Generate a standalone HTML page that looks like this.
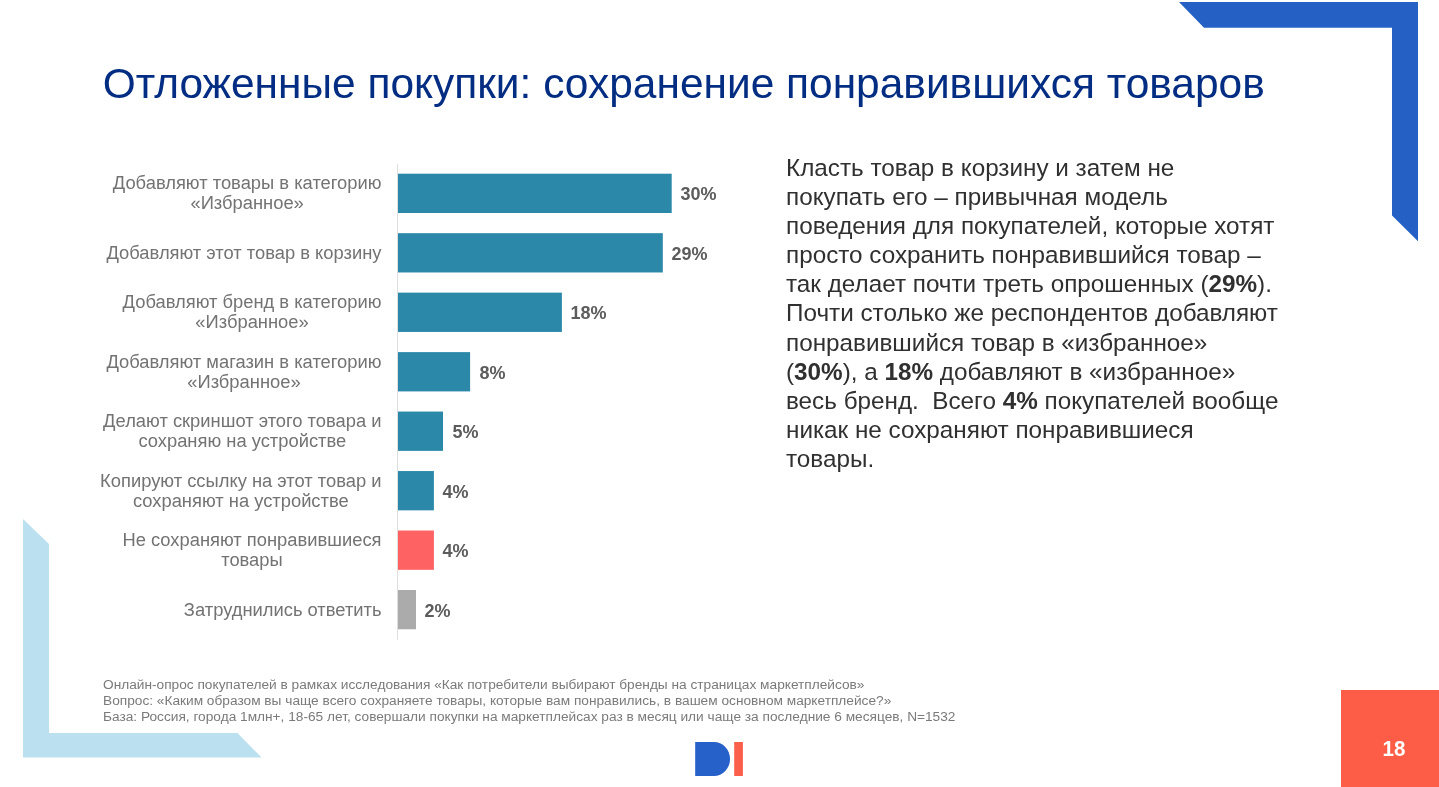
<!DOCTYPE html>
<html lang="ru">
<head>
<meta charset="utf-8">
<title>Отложенные покупки</title>
<style>
html,body{margin:0;padding:0;background:#fff;}
body{width:1439px;height:787px;position:relative;overflow:hidden;font-family:"Liberation Sans",sans-serif;}
.abs{position:absolute;}
#title{left:102.7px;top:60px;font-size:42.46px;line-height:48px;color:#032d82;white-space:nowrap;}
#deco{left:0;top:0;width:1439px;height:787px;}
.lab{position:absolute;left:60px;width:321.5px;text-align:center;font-size:18.35px;line-height:20.5px;color:#737373;white-space:nowrap;display:flex;flex-direction:column;align-items:flex-end;justify-content:center;height:40px;}
.lab span{display:block;text-align:center;}
.val{position:absolute;font-weight:bold;font-size:18px;line-height:20px;color:#5c5c5c;white-space:nowrap;}
#para{left:786px;top:152.6px;font-size:24.27px;line-height:29.15px;color:#303030;white-space:nowrap;}
#foot{left:103px;top:677px;font-size:13.7px;line-height:16px;color:#7a7a7a;white-space:nowrap;}
#pnum{left:1341px;top:690px;width:98px;height:97px;background:#fd5d46;}
#pnum span{position:absolute;left:41.5px;top:47.5px;font-size:20.6px;line-height:22px;font-weight:bold;color:#fff;display:block;transform:scaleY(1.1);transform-origin:0 18.1px;}
</style>
</head>
<body>
<svg id="deco" class="abs" width="1439" height="787" viewBox="0 0 1439 787">
  <polygon points="1179,2 1418,2 1418,241.3 1392,215.6 1392,27.8 1204,27.8" fill="#2561c4"/>
  <polygon points="23,519 49,544 49,733 237.5,733 261.5,757.5 23,757.5" fill="#bbe0f0"/>
  <rect x="397" y="164" width="1" height="475.7" fill="#dedede"/>
  <rect x="398" y="173.70" width="273.7" height="39.3" fill="#2c88a9"/>
  <rect x="398" y="233.17" width="264.8" height="39.3" fill="#2c88a9"/>
  <rect x="398" y="292.64" width="163.9" height="39.3" fill="#2c88a9"/>
  <rect x="398" y="352.11" width="72.1" height="39.3" fill="#2c88a9"/>
  <rect x="398" y="411.58" width="45.0" height="39.3" fill="#2c88a9"/>
  <rect x="398" y="471.05" width="35.9" height="39.3" fill="#2c88a9"/>
  <rect x="398" y="530.52" width="35.9" height="39.3" fill="#fe6263"/>
  <rect x="398" y="589.99" width="18.0" height="39.3" fill="#ababab"/>
  <path d="M695.2,742 H714 A16,17 0 0 1 714,776 H695.2 Z" fill="#2561c8"/>
  <rect x="734.2" y="742" width="8.7" height="34" fill="#fb5e4b"/>
</svg>

<div id="title" class="abs">Отложенные покупки: сохранение понравившихся товаров</div>

<div class="lab" style="top:173px"><div><span>Добавляют товары в категорию</span><span>«Избранное»</span></div></div>
<div class="lab" style="top:233px"><div><span>Добавляют этот товар в корзину</span></div></div>
<div class="lab" style="top:292px"><div><span>Добавляют бренд в категорию</span><span>«Избранное»</span></div></div>
<div class="lab" style="top:352px"><div><span>Добавляют магазин в категорию</span><span>«Избранное»</span></div></div>
<div class="lab" style="top:411px"><div><span>Делают скриншот этого товара и</span><span>сохраняю на устройстве</span></div></div>
<div class="lab" style="top:471px"><div><span>Копируют ссылку на этот товар и</span><span>сохраняют на устройстве</span></div></div>
<div class="lab" style="top:530px"><div><span>Не сохраняют понравившиеся</span><span>товары</span></div></div>
<div class="lab" style="top:590px"><div><span>Затруднились ответить</span></div></div>


<div class="val" style="left:680.4px;top:184px">30%</div>
<div class="val" style="left:671.4px;top:244px">29%</div>
<div class="val" style="left:570.4px;top:303px">18%</div>
<div class="val" style="left:479.4px;top:363px">8%</div>
<div class="val" style="left:452.4px;top:422px">5%</div>
<div class="val" style="left:442.4px;top:482px">4%</div>
<div class="val" style="left:442.4px;top:541px">4%</div>
<div class="val" style="left:424.4px;top:601px">2%</div>

<div id="para" class="abs">Класть товар в корзину и затем не<br>покупать его – привычная модель<br>поведения для покупателей, которые хотят<br>просто сохранить понравившийся товар –<br>так делает почти треть опрошенных (<b>29%</b>).<br>Почти столько же респондентов добавляют<br>понравившийся товар в «избранное»<br>(<b>30%</b>), а <b>18%</b> добавляют в «избранное»<br>весь бренд.&nbsp; Всего <b>4%</b> покупателей вообще<br>никак не сохраняют понравившиеся<br>товары.</div>

<div id="foot" class="abs">Онлайн-опрос покупателей в рамках исследования «Как потребители выбирают бренды на страницах маркетплейсов»<br>Вопрос: «Каким образом вы чаще всего сохраняете товары, которые вам понравились, в вашем основном маркетплейсе?»<br>База: Россия, города 1млн+, 18-65 лет, совершали покупки на маркетплейсах раз в месяц или чаще за последние 6 месяцев, N=1532</div>

<div id="pnum" class="abs"><span>18</span></div>
</body>
</html>
